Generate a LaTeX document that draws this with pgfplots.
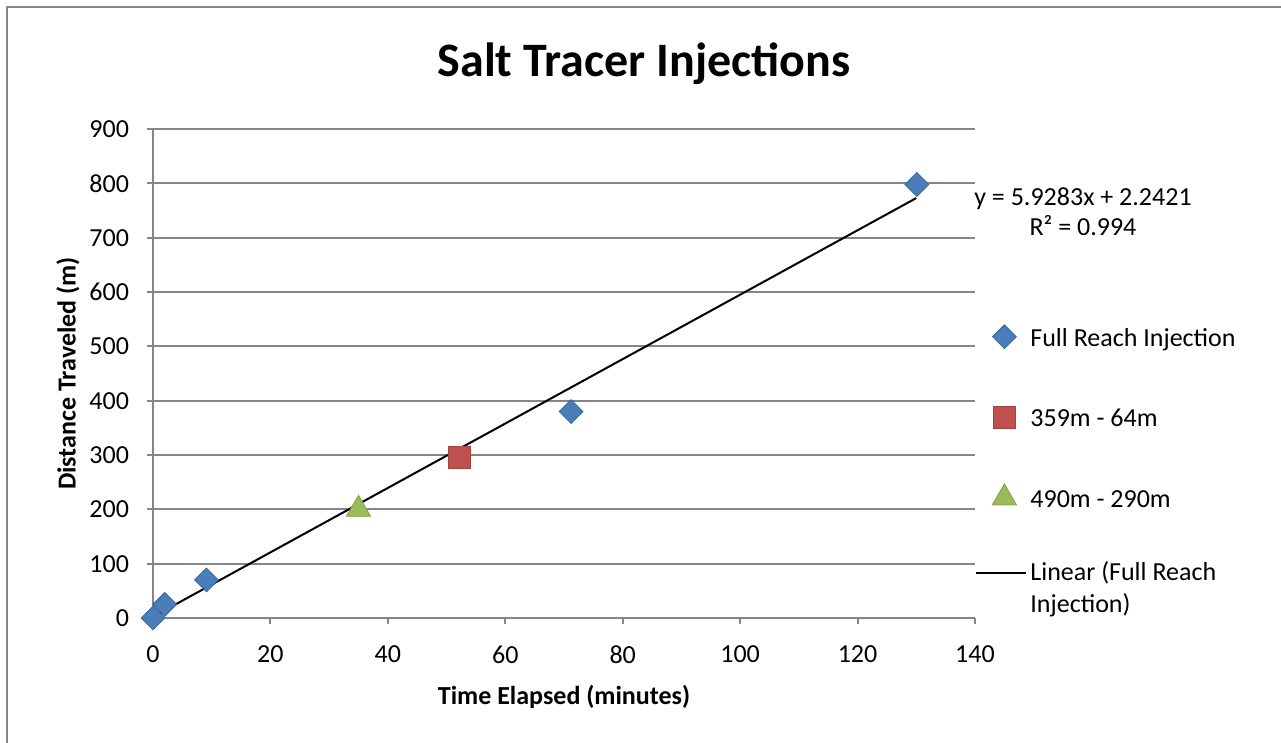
\documentclass[border=0pt]{standalone}
\usepackage{pgfplots}
\pgfplotsset{compat=1.18}
\usepackage{fontspec}
\setmainfont{Carlito}
\definecolor{gridgray}{HTML}{868686}
\definecolor{sblue}{HTML}{4A7EBB}
\definecolor{sred}{HTML}{C0504D}
\definecolor{sgreen}{HTML}{9BBB59}
\begin{document}
\begin{tikzpicture}
\useasboundingbox (0,0) rectangle (640.5pt,371.5pt);
\draw[gridgray, line width=1pt] (3.25pt,0) -- (3.25pt,367.75pt) -- (640.5pt,367.75pt);
\node[font=\fontsize{24}{28}\selectfont\bfseries] at (322pt,339.5pt) {Salt Tracer Injections};
\begin{axis}[
  at={(76.5pt,62.5pt)}, anchor=south west,
  scale only axis, width=411pt, height=244.5pt,
  xmin=0, xmax=140, ymin=0, ymax=900,
  xtick={0,20,...,140}, ytick={0,100,...,900},
  axis x line*=bottom, axis y line*=left,
  axis line style={gridgray, line width=1pt, -},
  ymajorgrids, grid style={gridgray, line width=1pt},
  tick align=outside, major tick length=3pt,
  tick style={gridgray, line width=1pt},
  ticklabel style={font=\fontsize{13}{16}\selectfont},
  /pgf/number format/assume math mode=true,
  yticklabel style={xshift=-5.5pt},
  xticklabel style={yshift=-7.5pt},
  xlabel={Time Elapsed (minutes)},
  ylabel={Distance Traveled (m)},
  label style={font=\fontsize{13}{16}\selectfont\bfseries},
  xlabel style={at={(axis description cs:0.5,0)}, anchor=center, yshift=-39.5pt},
  ylabel style={at={(axis description cs:0,0.5)}, anchor=center, yshift=42.5pt},
  clip=false,
  legend image code/.code={\path[draw=none,fill=none] (0pt,0pt) -- (25pt,0pt);\draw[overlay,mark repeat=2,mark phase=2,#1] plot coordinates {(0pt,0pt) (14pt,0pt) (25pt,0pt)};},
  legend style={at={(axis description cs:1,0.618)}, anchor=north west, xshift=-2.5pt, draw=none, fill=none,
    font=\fontsize{13}{16}\selectfont, row sep=23.8pt, cells={anchor=west, text height=11pt, text depth=4pt}},
]
\addplot[only marks, mark=square*, mark size=4.2pt, mark options={rotate=45, fill=sblue, draw=sblue!80!black}]
  coordinates {(0,0) (2,25) (9.1,70) (71.2,380) (130.1,798)};
\addlegendentry{Full Reach Injection}
\addplot[only marks, mark=square*, mark size=5.5pt, mark options={fill=sred, draw=sred!85!black}]
  coordinates {(52.1,295)};
\addlegendentry{359m - 64m}
\addplot[only marks, mark=triangle*, mark size=7pt, mark options={fill=sgreen, draw=sgreen!85!black}]
  coordinates {(35,200)};
\addlegendentry{490m - 290m}
\addplot[black, line width=1pt, mark=none] coordinates {(0,2.2421) (130,772.92)};
\addlegendentry[text height=7pt, text depth=0pt]{\begin{tabular}[t]{@{}l@{}}Linear (Full Reach\\Injection)\end{tabular}}
\end{axis}
\node[font=\fontsize{13}{15}\selectfont, align=center] at (541.5pt,265.5pt) {y = 5.9283x + 2.2421\\R² = 0.994};
\end{tikzpicture}
\end{document}
